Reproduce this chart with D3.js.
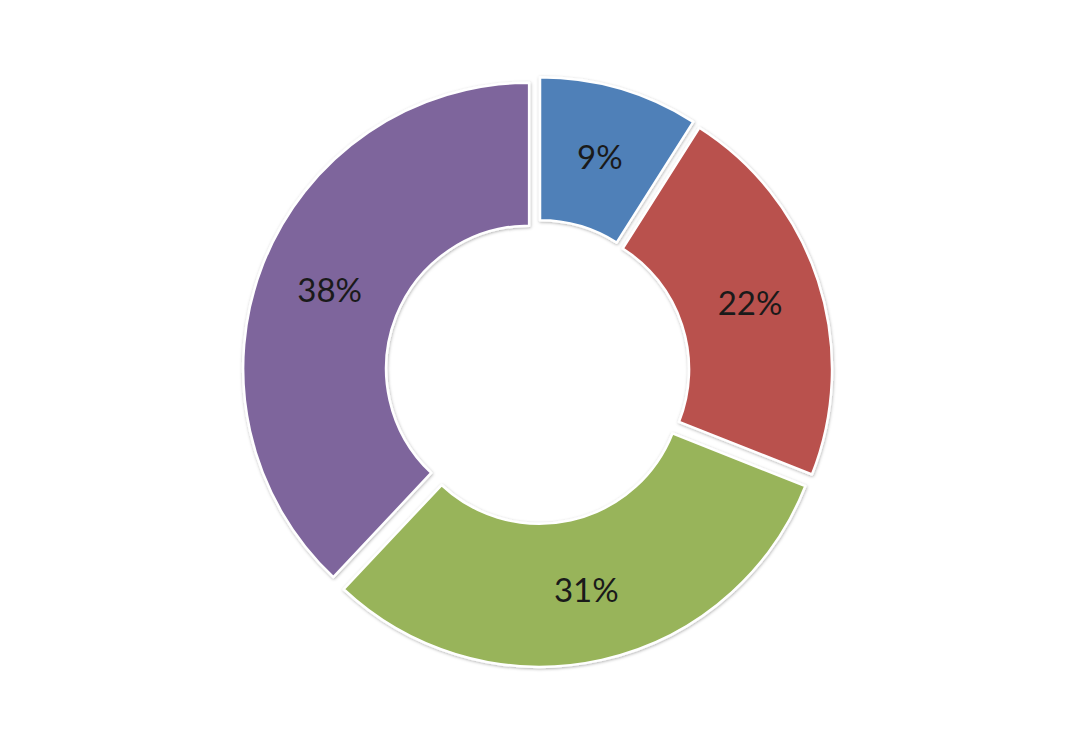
<!DOCTYPE html>
<html>
<head>
<meta charset="utf-8">
<script src="https://cdn.jsdelivr.net/npm/d3@7"></script>
<style>
  html, body { margin: 0; padding: 0; background: #fff; }
</style>
</head>
<body>
<script>
var categories = ['A', 'B', 'C', 'D'];
var values = [9, 22, 31, 38];
var labels = ['9%', '22%', '31%', '38%'];
var colors = ['#4f80b8', '#b9514e', '#98b45a', '#7e659c'];

var width = 1076, height = 743;
var cx = 537.5, cy = 372;
var outerR = 286, innerR = 143;
var explode = 9;

var svg = d3.select('body').append('svg')
  .attr('width', width)
  .attr('height', height);

var defs = svg.append('defs');
var shadow = defs.append('filter')
  .attr('id', 'shadow')
  .attr('x', '-10%').attr('y', '-10%')
  .attr('width', '120%').attr('height', '120%');
shadow.append('feDropShadow')
  .attr('dx', 0.5).attr('dy', 1)
  .attr('stdDeviation', 1.5)
  .attr('flood-color', '#000')
  .attr('flood-opacity', 0.3);

var pie = d3.pie().sort(null).value(function(d) { return d; });
var arc = d3.arc().innerRadius(innerR).outerRadius(outerR);

var arcs = pie(values);

var g = svg.append('g')
  .attr('transform', 'translate(' + cx + ',' + cy + ')');

var slice = g.selectAll('g.slice').data(arcs)
  .enter()
  .append('g')
  .attr('class', 'slice')
  .attr('transform', function(d) {
    var a = (d.startAngle + d.endAngle) / 2;
    return 'translate(' + (Math.sin(a) * explode) + ',' + (-Math.cos(a) * explode) + ')';
  });

slice.append('path')
  .attr('d', arc)
  .attr('fill', function(d, i) { return colors[i]; })
  .attr('stroke', '#fff')
  .attr('stroke-width', 2.5)
  .attr('stroke-linejoin', 'round')
  .attr('filter', 'url(#shadow)');

slice.append('text')
  .attr('transform', function(d) { return 'translate(' + arc.centroid(d) + ')'; })
  .attr('text-anchor', 'middle')
  .attr('dy', '0.36em')
  .attr('font-family', 'Lato, "Noto Sans", sans-serif')
  .attr('font-size', 33)
  .attr('fill', '#1a1a1a')
  .text(function(d, i) { return labels[i]; });
</script>
</body>
</html>
